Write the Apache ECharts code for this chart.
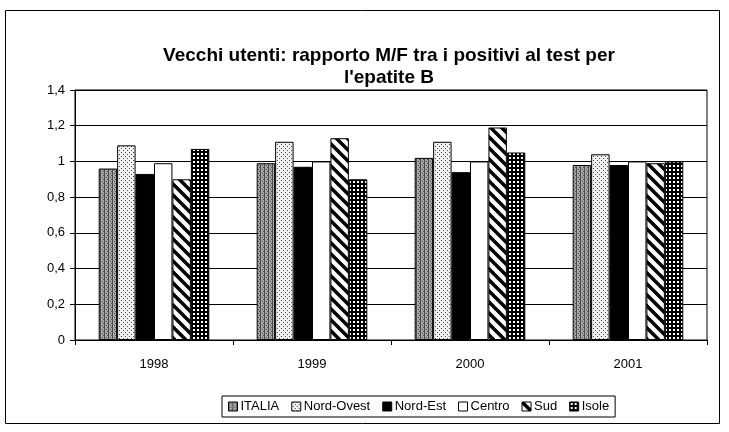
<!DOCTYPE html>
<html>
<head>
<meta charset="utf-8">
<script src="https://cdn.jsdelivr.net/npm/echarts@6/dist/echarts.min.js"></script>
<style>
  html, body { margin: 0; padding: 0; background: #fff; }
  #chart { width: 729px; height: 432px; }
</style>
</head>
<body>
<div id="chart"></div>
<script>
  // dati
  var years = ['1998', '1999', '2000', '2001']
  var italia = [0.96, 0.99, 1.02, 0.98]
  var nordOvest = [1.09, 1.11, 1.11, 1.04]
  var nordEst = [0.93, 0.97, 0.94, 0.98]
  var centro = [0.99, 1.00, 1.00, 1.00]
  var sud = [0.90, 1.13, 1.19, 0.99]
  var isole = [1.07, 0.90, 1.05, 1.00]
  var yTicks = [0, 0.2, 0.4, 0.6, 0.8, 1, 1.2, 1.4]

  // retini stile excel
  function pattern (size, draw) {
    var c = document.createElement('canvas')
    c.width = size
    c.height = size
    var ctx = c.getContext('2d')
    draw(ctx, size)
    return { image: c, repeat: 'repeat' }
  }

  var patItalia = pattern(4, function (ctx) {
    ctx.fillStyle = '#a8a8a8'
    ctx.fillRect(0, 0, 4, 4)
    ctx.fillStyle = '#4a4a4a'
    ctx.fillRect(0, 0, 1, 4)
    ctx.fillRect(2, 1, 1, 1)
    ctx.fillRect(3, 3, 1, 1)
  })
  var patNordOvest = pattern(4, function (ctx) {
    ctx.fillStyle = '#f2f2f2'
    ctx.fillRect(0, 0, 4, 4)
    ctx.fillStyle = '#444'
    ctx.fillRect(1, 0, 1, 1)
    ctx.fillRect(3, 2, 1, 1)
  })
  var patSud = pattern(11, function (ctx, s) {
    ctx.fillStyle = '#fff'
    ctx.fillRect(0, 0, s, s)
    ctx.strokeStyle = '#000'
    ctx.lineWidth = 3.5
    for (var o = -s; o <= s; o += s) {
      ctx.beginPath()
      ctx.moveTo(o - 2, -2)
      ctx.lineTo(o + s + 2, s + 2)
      ctx.stroke()
    }
  })
  var patIsole = pattern(4, function (ctx) {
    ctx.fillStyle = '#000'
    ctx.fillRect(0, 0, 4, 4)
    ctx.fillStyle = '#fff'
    ctx.fillRect(1, 1, 2, 2)
  })

  var seriesDefs = [
    { name: 'ITALIA', data: italia, color: patItalia },
    { name: 'Nord-Ovest', data: nordOvest, color: patNordOvest },
    { name: 'Nord-Est', data: nordEst, color: '#000' },
    { name: 'Centro', data: centro, color: '#fff' },
    { name: 'Sud', data: sud, color: patSud },
    { name: 'Isole', data: isole, color: patIsole }
  ]

  var series = seriesDefs.map(function (s) {
    return {
      name: s.name,
      type: 'bar',
      data: s.data,
      barGap: '0%',
      barCategoryGap: '30%',
      itemStyle: { color: s.color, borderColor: '#000', borderWidth: 1 }
    }
  })

  var fontFam = '"Liberation Sans", Arial, sans-serif'

  var option = {
    animation: false,
    backgroundColor: '#fff',
    title: {
      text: 'Vecchi utenti: rapporto M/F tra i positivi al test per\nl\'epatite B',
      left: 384,
      top: 40,
      textAlign: 'center',
      textStyle: { fontFamily: fontFam, fontSize: 19, fontWeight: 'bold', color: '#000', lineHeight: 22 }
    },
    legend: {
      data: seriesDefs.map(function (s) { return s.name }),
      left: 222,
      top: 396,
      padding: [4, 6],
      itemGap: 12,
      itemWidth: 9,
      itemHeight: 9,
      borderColor: '#000',
      borderWidth: 1,
      borderRadius: 0,
      icon: 'rect',
      itemStyle: { borderColor: '#000', borderWidth: 1 },
      textStyle: { fontFamily: fontFam, fontSize: 13, color: '#000', padding: [0, 0, 0, -2] }
    },
    grid: {
      left: 75,
      right: 22,
      top: 90,
      bottom: 92,
      show: true,
      borderColor: '#000',
      borderWidth: 1
    },
    xAxis: {
      type: 'category',
      data: years,
      axisLine: { lineStyle: { color: '#000' } },
      axisTick: { show: true, length: 5, lineStyle: { color: '#000' } },
      axisLabel: { fontFamily: fontFam, fontSize: 13, color: '#000', margin: 18 }
    },
    yAxis: {
      type: 'value',
      min: yTicks[0],
      max: yTicks[yTicks.length - 1],
      interval: 0.2,
      axisLine: { show: true, lineStyle: { color: '#000' } },
      axisTick: { show: true, length: 5, lineStyle: { color: '#000' } },
      splitLine: { lineStyle: { color: '#000', width: 1 } },
      axisLabel: {
        fontFamily: fontFam, fontSize: 13, color: '#000', margin: 10,
        formatter: function (v) { return String(Math.round(v * 10) / 10).replace('.', ',') }
      }
    },
    graphic: [{
      type: 'rect',
      shape: { x: 5.5, y: 10.5, width: 714, height: 413 },
      style: { fill: null, stroke: '#000', lineWidth: 1 },
      silent: true,
      z: -1
    }],
    series: series
  }

  var chart = echarts.init(document.getElementById('chart'), null, { renderer: 'canvas' })
  chart.setOption(option)
</script>
</body>
</html>
